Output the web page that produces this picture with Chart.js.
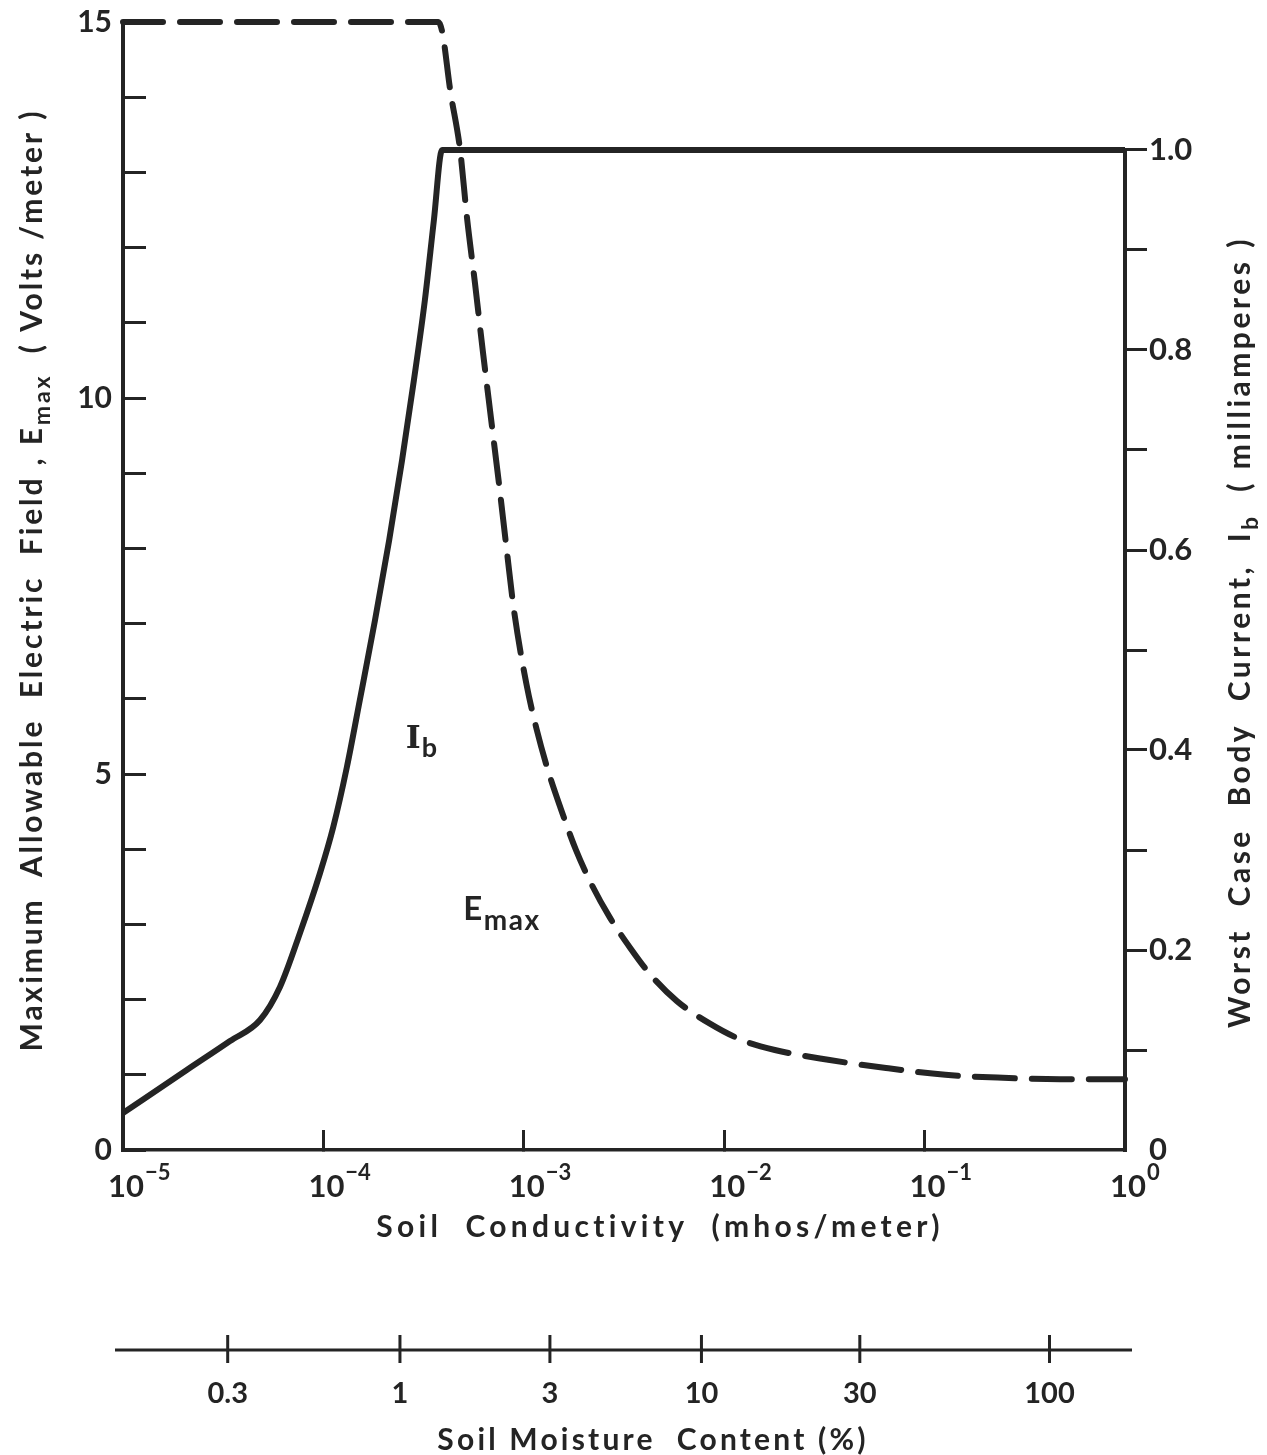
<!DOCTYPE html>
<html lang="en">
<head>
<meta charset="UTF-8">
<title>Maximum allowable electric field and worst case body current vs soil conductivity</title>
<script src="https://cdn.jsdelivr.net/npm/chart.js"></script>
<style>
  html, body { margin: 0; padding: 0; background: #fff; }
  #chart { display: block; }
</style>
</head>
<body>
<canvas id="chart" width="1267" height="1455"></canvas>
<script>
// values
const conductivityTicks = [1e-5, 1e-4, 1e-3, 1e-2, 1e-1, 1];
const conductivityExponents = ['\u22125', '\u22124', '\u22123', '\u22122', '\u22121', '0'];

const fieldTicks = [0, 1, 2, 3, 4, 5, 6, 7, 8, 9, 10, 11, 12, 13, 14, 15];
const fieldTickLabels = ['0', '', '', '', '', '5', '', '', '', '', '10', '', '', '', '', '15'];

const currentTicks = [0, 0.1, 0.2, 0.3, 0.4, 0.5, 0.6, 0.7, 0.8, 0.9, 1.0];
const currentTickLabels = ['0', '', '0.2', '', '0.4', '', '0.6', '', '0.8', '', '1.0'];

const moistureLabels = ['0.3', '1', '3', '10', '30', '100'];
const moistureAtConductivity = [3.33e-5, 2.41e-4, 1.35e-3, 7.7e-3, 4.75e-2, 0.42];

const emaxConductivity = [1e-5, 3.75e-4, 3.93e-4, 4.29e-4, 4.81e-4, 5.21e-4, 5.71e-4, 6.26e-4, 6.86e-4,
  7.52e-4, 8.25e-4, 8.94e-4, 1.03e-3, 1.16e-3, 1.32e-3, 1.52e-3, 1.82e-3, 2.19e-3, 2.69e-3, 3.39e-3,
  4.26e-3, 5.81e-3, 8.49e-3, 1.23e-2, 1.79e-2, 3.30e-2, 6.42e-2, 0.127, 0.246, 0.474, 1];
const emaxValues = [15, 15, 14.85, 14.1, 13.3, 12.39, 11.52, 10.6, 9.73,
  8.86, 7.94, 7.17, 6.2, 5.59, 5.05, 4.56, 3.99, 3.52, 3.09, 2.69,
  2.34, 1.98, 1.68, 1.46, 1.33, 1.2, 1.09, 1.0, 0.96, 0.94, 0.94];

const ibConductivity = [1e-5, 2.08e-5, 3.42e-5, 4.83e-5, 6.07e-5, 7.64e-5, 9.62e-5, 1.12e-4, 1.31e-4,
  1.52e-4, 1.81e-4, 2.13e-4, 2.47e-4, 2.83e-4, 3.21e-4, 3.56e-4, 3.91e-4, 1];
const ibValues = [0.037, 0.080, 0.109, 0.130, 0.163, 0.217, 0.277, 0.323, 0.383,
  0.450, 0.530, 0.610, 0.690, 0.770, 0.850, 0.930, 1.0, 1.0];

const INK = '#242424';
const FONT = '"Lato", "DejaVu Sans", sans-serif';

function toPoints(xs, ys) {
  return xs.map((x, i) => ({ x: x, y: ys[i] }));
}

// draws a row of text pieces (with sub/superscripts) centred on cx, baseline at cy
function richText(ctx, parts, cx, cy, angle, spacing) {
  ctx.save();
  ctx.translate(cx, cy);
  ctx.rotate(angle);
  ctx.letterSpacing = spacing + 'px';
  ctx.textAlign = 'left';
  ctx.textBaseline = 'alphabetic';
  ctx.fillStyle = INK;
  let total = 0;
  parts.forEach(p => { ctx.font = p.font; p.w = ctx.measureText(p.text).width; total += p.w; });
  let x = -total / 2;
  parts.forEach(p => { ctx.font = p.font; ctx.fillText(p.text, x, p.dy || 0); x += p.w; });
  ctx.restore();
}

const extras = {
  id: 'extras',
  afterDraw(chart) {
    const ctx = chart.ctx;
    const x = chart.scales.x, y1 = chart.scales.y1, xm = chart.scales.xm;
    const big = 'bold 30px ' + FONT, small = 'bold 23px ' + FONT;

    ctx.save();
    ctx.strokeStyle = INK;
    ctx.lineCap = 'butt';

    // right axis only runs from 0 to 1.0 mA
    ctx.lineWidth = 4;
    ctx.beginPath();
    ctx.moveTo(chart.chartArea.right, y1.getPixelForValue(0) + 2);
    ctx.lineTo(chart.chartArea.right, y1.getPixelForValue(1.0) - 1);
    ctx.stroke();

    // soil moisture scale line, ticks crossing it
    const my = xm.top;
    ctx.lineWidth = 3;
    ctx.beginPath();
    ctx.moveTo(chart.chartArea.left - 8, my);
    ctx.lineTo(chart.chartArea.right + 7, my);
    xm.ticks.forEach(t => {
      const px = xm.getPixelForValue(t.value);
      ctx.moveTo(px, my - 15);
      ctx.lineTo(px, my + 13);
    });
    ctx.stroke();

    // decade labels 10^n
    ctx.fillStyle = INK;
    ctx.textBaseline = 'alphabetic';
    ctx.textAlign = 'left';
    conductivityTicks.forEach((v, i) => {
      const px = x.getPixelForValue(v) - 15;
      ctx.font = 'bold 31px ' + FONT;
      ctx.fillText('10', px, 1197);
      const w = ctx.measureText('10').width;
      ctx.font = 'bold 22px ' + FONT;
      ctx.fillText(conductivityExponents[i], px + w + 1, 1180);
    });
    ctx.restore();

    // axis titles
    richText(ctx, [{ text: 'Soil  Conductivity  (mhos/meter)', font: big }], 660, 1237, 0, 4.3);
    richText(ctx, [{ text: 'Soil Moisture  Content (%)', font: big }], 653, 1450, 0, 3.2);
    richText(ctx, [
      { text: 'Maximum  Allowable  Electric  Field , E', font: big },
      { text: 'max', font: small, dy: 8 },
      { text: '  ( Volts /meter )', font: big }
    ], 42, 580, -Math.PI / 2, 2.9);
    richText(ctx, [
      { text: 'Worst  Case  Body  Current,  I', font: big },
      { text: 'b', font: small, dy: 8 },
      { text: '  ( milliamperes )', font: big }
    ], 1250, 632, -Math.PI / 2, 3.5);

    // curve labels
    richText(ctx, [
      { text: 'I', font: 'bold 32px "DejaVu Serif", serif' },
      { text: 'b', font: 'bold 27px ' + FONT, dy: 9 }
    ], 422, 748, 0, 1);
    richText(ctx, [
      { text: 'E', font: 'bold 33px ' + FONT },
      { text: 'max', font: 'bold 28px ' + FONT, dy: 10 }
    ], 502, 920, 0, 1.5);
  }
};

// fixed axis boxes so the plot area lands where the figure has it
function fixWidth(w) {
  return s => { s.width = w; s.paddingTop = 0; s.paddingBottom = 0; };
}
function fixHeight(h) {
  return s => { s.height = h; s.paddingLeft = 0; s.paddingRight = 0; };
}

new Chart(document.getElementById('chart'), {
  type: 'line',
  data: {
    datasets: [
      {
        label: 'Emax',
        data: toPoints(emaxConductivity, emaxValues),
        yAxisID: 'y',
        borderColor: INK,
        borderWidth: 6,
        borderDash: [40, 17],
        borderCapStyle: 'round',
        cubicInterpolationMode: 'monotone',
        pointRadius: 0,
        fill: false,
        clip: false
      },
      {
        label: 'Ib',
        data: toPoints(ibConductivity, ibValues),
        yAxisID: 'y1',
        borderColor: INK,
        borderWidth: 6,
        cubicInterpolationMode: 'monotone',
        pointRadius: 0,
        fill: false,
        clip: false
      }
    ]
  },
  options: {
    responsive: false,
    animation: false,
    devicePixelRatio: 1,
    layout: { padding: { left: 0, right: 0, top: 22, bottom: 0 } },
    plugins: { legend: { display: false }, tooltip: { enabled: false }, title: { display: false } },
    events: [],
    scales: {
      x: {
        type: 'logarithmic',
        position: 'bottom',
        weight: 0,
        min: 1e-5,
        max: 1,
        afterBuildTicks: s => { s.ticks = conductivityTicks.map(v => ({ value: v })); },
        afterFit: fixHeight(200),
        ticks: { display: false },
        grid: { drawOnChartArea: false, drawTicks: true, tickLength: -20, lineWidth: 3, color: INK },
        border: { display: true, width: 3.5, color: INK }
      },
      xm: {
        type: 'logarithmic',
        position: 'bottom',
        weight: 1,
        min: 1e-5,
        max: 1,
        afterBuildTicks: s => { s.ticks = moistureAtConductivity.map(v => ({ value: v })); },
        afterFit: fixHeight(105),
        ticks: {
          autoSkip: false,
          maxRotation: 0,
          padding: 26,
          color: INK,
          font: { family: FONT, size: 29, weight: 'bold' },
          callback: (v, i) => moistureLabels[i]
        },
        grid: { display: false, drawTicks: false },
        border: { display: false }
      },
      y: {
        type: 'linear',
        position: 'left',
        min: 0,
        max: 15,
        afterBuildTicks: s => { s.ticks = fieldTicks.map(v => ({ value: v })); },
        afterFit: fixWidth(123),
        ticks: {
          autoSkip: false,
          padding: 34,
          color: INK,
          font: { family: FONT, size: 30, weight: 'bold' },
          callback: (v, i) => fieldTickLabels[i]
        },
        grid: { drawOnChartArea: false, drawTicks: true, tickLength: -23, lineWidth: 3, color: INK },
        border: { display: true, width: 4, color: INK }
      },
      y1: {
        type: 'linear',
        position: 'right',
        min: 0,
        max: 1.128,
        afterBuildTicks: s => { s.ticks = currentTicks.map(v => ({ value: v })); },
        afterFit: fixWidth(142),
        ticks: {
          autoSkip: false,
          padding: 2,
          color: INK,
          font: { family: FONT, size: 31, weight: 'bold' },
          callback: (v, i) => currentTickLabels[i]
        },
        grid: {
          drawOnChartArea: false,
          drawTicks: true,
          tickLength: 22,
          lineWidth: 3,
          color: c => (c.tick && c.tick.value === 0 ? 'rgba(0,0,0,0)' : INK)
        },
        border: { display: false }
      }
    }
  },
  plugins: [extras]
});
</script>
</body>
</html>
